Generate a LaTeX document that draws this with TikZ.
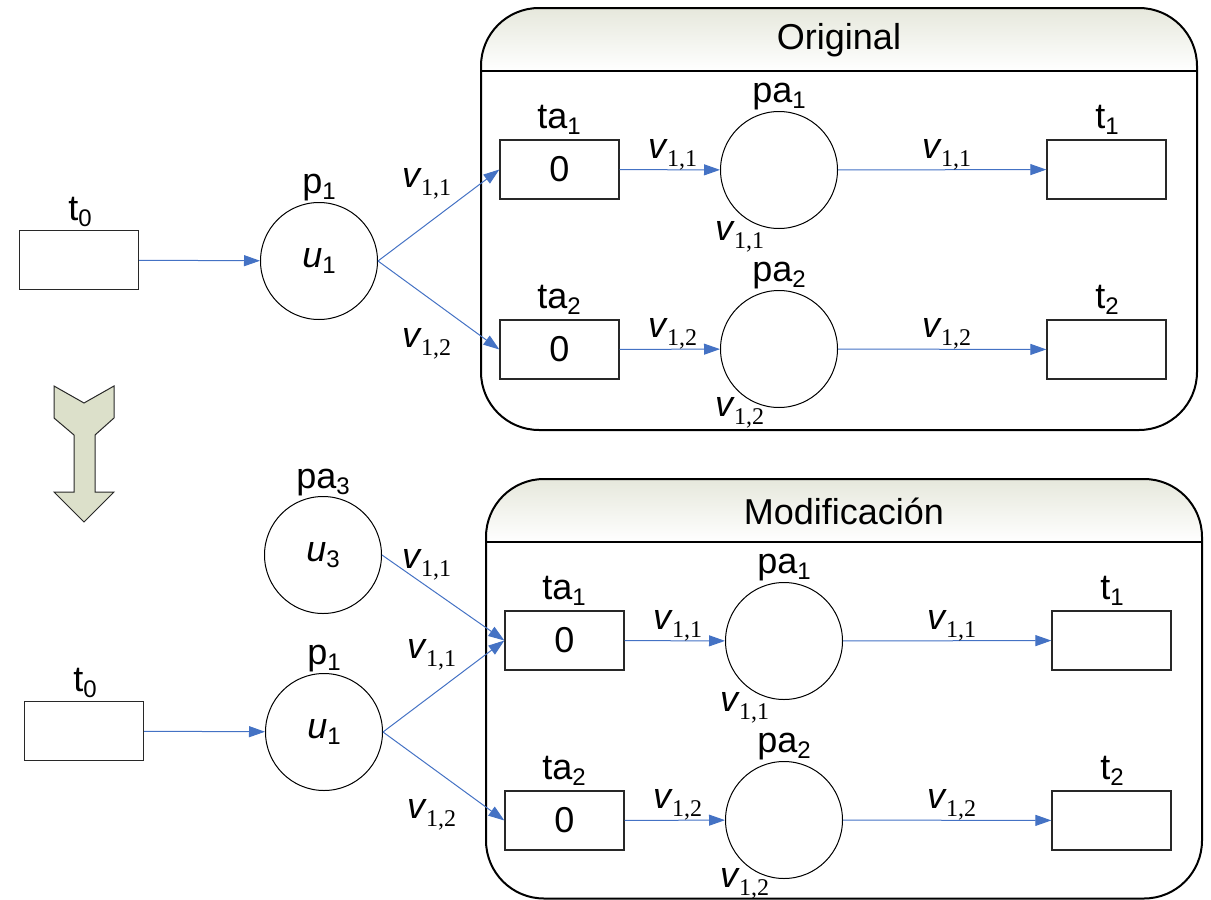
\documentclass[tikz,border=0pt]{standalone}
\usepackage{fontspec}
\setmainfont{Liberation Sans}
\newfontfamily\serifnums{Liberation Serif}
\usetikzlibrary{arrows.meta}
\definecolor{arcblue}{RGB}{68,114,196}
\definecolor{hdrtop}{RGB}{230,232,220}
\definecolor{arrowfill}{RGB}{220,224,202}
\definecolor{boxedge}{RGB}{40,40,40}
\newcommand{\sz}[1]{\fontsize{#1}{#1}\selectfont}
\newcommand{\lbl}[2]{{\sz{36}#1}\raisebox{-6pt}{\sz{24}#2}}
\newcommand{\arclbl}[1]{{\sz{36}\itshape v}\kern1pt\raisebox{-8pt}{\sz{24}\serifnums #1}}
\newcommand{\mrk}[2]{{\sz{36}\itshape #1}\raisebox{-6pt}{\sz{24}#2}}
\tikzset{
  trans/.style={draw=boxedge, line width=1.3pt, minimum width=119pt, minimum height=59pt, inner sep=0pt, font=\sz{36}},
  place/.style={circle, draw=black, line width=1pt, minimum size=117pt, inner sep=0pt},
  arc/.style={draw=arcblue, line width=1pt, -{Triangle[length=16pt,width=11pt]}},
  nm/.style={anchor=base, inner sep=0pt},
  al/.style={anchor=base west, inner sep=0pt},
  ttl/.style={font=\sz{36}, inner sep=0pt},
  container/.style={draw=black, line width=2pt, rounded corners=58pt},
}
% #1 prefix, #2 title, #3 bottom y
\newcommand{\petrinet}[3]{%
  \begin{scope}
    \clip[rounded corners=58pt] (481,8) rectangle (1197,#3);
    \shade[top color=hdrtop, bottom color=white] (481,8) rectangle (1197,71);
  \end{scope}
  \draw[container] (481,8) rectangle (1197,#3);
  \draw[line width=2pt] (481,71) -- (1197,71);
  \node[ttl] (#1title) at (839,40) {#2};
  \node[trans] (#1t0) at (79,260) {};
  \node[place] (#1p1) at (319,261) {\mrk{u}{1}};
  \node[trans] (#1ta1) at (559.5,169.5) {0};
  \node[place] (#1pa1) at (779,170) {};
  \node[trans] (#1t1) at (1106.5,169.5) {};
  \node[trans] (#1ta2) at (559.5,349.5) {0};
  \node[place] (#1pa2) at (779,349) {};
  \node[trans] (#1t2) at (1106.5,349.5) {};
  \node[nm] (#1t0n) at (80,220) {\lbl{t}{0}};
  \node[nm] (#1p1n) at (319,193) {\lbl{p}{1}};
  \node[nm] (#1ta1n) at (559,128) {\lbl{ta}{1}};
  \node[nm] (#1pa1n) at (779,102) {\lbl{pa}{1}};
  \node[nm] (#1t1n) at (1107,128) {\lbl{t}{1}};
  \node[nm] (#1ta2n) at (559,308) {\lbl{ta}{2}};
  \node[nm] (#1pa2n) at (779,281) {\lbl{pa}{2}};
  \node[nm] (#1t2n) at (1107,308) {\lbl{t}{2}};
  \draw[arc] (#1t0) -- (#1p1);
  \draw[arc] (#1p1.east) -- (#1ta1.west);
  \draw[arc] (#1p1.east) -- (#1ta2.west);
  \draw[arc] (#1ta1) -- (#1pa1);
  \draw[arc] (#1pa1) -- (#1t1);
  \draw[arc] (#1ta2) -- (#1pa2);
  \draw[arc] (#1pa2) -- (#1t2);
  \node[al] (#1a1) at (402,187) {\arclbl{1,1}};
  \node[al] (#1a2) at (402,347) {\arclbl{1,2}};
  \node[al] (#1a3) at (648,158) {\arclbl{1,1}};
  \node[al] (#1a4) at (922,158) {\arclbl{1,1}};
  \node[al] (#1a5) at (715,240) {\arclbl{1,1}};
  \node[al] (#1a6) at (648,337) {\arclbl{1,2}};
  \node[al] (#1a7) at (922,337) {\arclbl{1,2}};
  \node[al] (#1a8) at (715,416) {\arclbl{1,2}};
}
\begin{document}
\begin{tikzpicture}[x=1pt,y=-1pt]
  \useasboundingbox (0,0) rectangle (1211,900);
  \petrinet{o}{Original}{430}
  \begin{scope}[shift={(5,471)}]
    \petrinet{m}{Modificación}{427.5}
  \end{scope}
  % added place pa3
  \node[place] (pa3) at (323,555) {\mrk{u}{3}};
  \node[nm] (pa3n) at (323,488) {\lbl{pa}{3}};
  \draw[arc] (pa3.east) -- (mta1.west);
  \node[al] (pa3a) at (402,568) {\arclbl{1,1}};
  % transformation arrow
  \draw[draw=boxedge, fill=arrowfill, line width=1pt]
    (54,386) -- (84,403) -- (114,386) -- (114,418) -- (95,435) -- (95,492) -- (114,492)
    -- (84,522) -- (54,492) -- (74,492) -- (74,435) -- (54,418) -- cycle;
\end{tikzpicture}
\end{document}
